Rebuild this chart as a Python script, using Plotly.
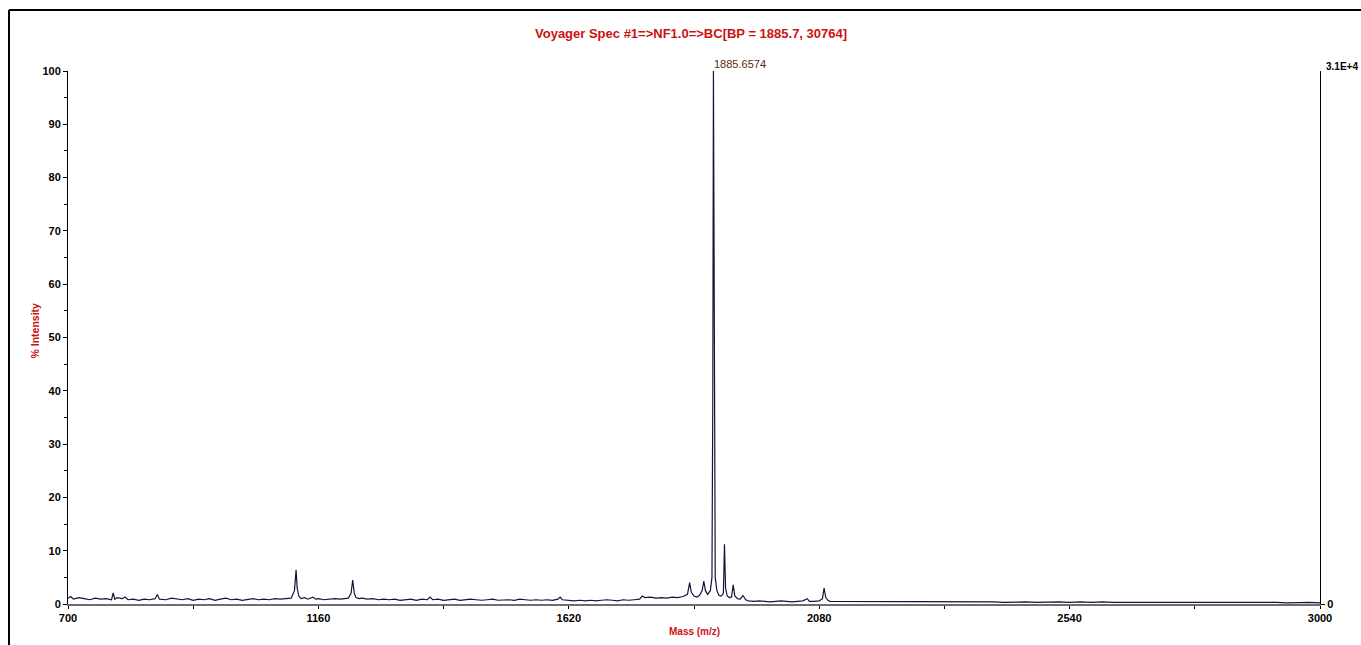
import plotly.graph_objects as go

TITLE = "Voyager Spec #1=>NF1.0=>BC[BP = 1885.7, 30764]"
BASE_PEAK_LABEL = "1885.6574"
BASE_PEAK_MASS = 1885.7
RIGHT_TOP_LABEL = "3.1E+4"

mass = [700, 705, 710, 720, 730, 740, 750, 760, 770, 780, 783, 786, 790, 800, 805, 810, 820, 830, 840, 850,
        860, 864, 868, 880, 890, 900, 910, 920, 930, 940, 950, 960, 970, 980, 990, 1000, 1010, 1020, 1030, 1040,
        1050, 1060, 1070, 1080, 1090, 1100, 1110, 1116, 1119, 1121, 1124, 1128, 1135, 1140, 1150, 1155, 1160, 1170, 1180, 1190,
        1200, 1210, 1215, 1220, 1223, 1226, 1229, 1235, 1240, 1250, 1260, 1270, 1280, 1290, 1300, 1310, 1320, 1330, 1340, 1350,
        1360, 1365, 1370, 1380, 1390, 1400, 1410, 1420, 1430, 1440, 1450, 1460, 1470, 1480, 1490, 1500, 1510, 1520, 1530, 1540,
        1550, 1560, 1570, 1580, 1590, 1600, 1604, 1608, 1620, 1630, 1640, 1650, 1660, 1670, 1680, 1690, 1700, 1710, 1720, 1730,
        1740, 1750, 1755, 1760, 1770, 1780, 1790, 1800, 1810, 1820, 1830, 1838, 1842, 1845, 1850, 1855, 1860, 1865, 1868, 1871,
        1875, 1880, 1883, 1884.5, 1885.7, 1886.5, 1887.5, 1889, 1892, 1896, 1900, 1904, 1906, 1908, 1911, 1915, 1919, 1922, 1925, 1930,
        1935, 1940, 1945, 1950, 1960, 1970, 1980, 1990, 2000, 2010, 2020, 2030, 2040, 2050, 2058, 2062, 2070, 2080, 2086, 2089,
        2092, 2096, 2100, 2120, 2140, 2160, 2180, 2200, 2220, 2240, 2260, 2280, 2300, 2320, 2340, 2360, 2380, 2400, 2420, 2440,
        2460, 2480, 2500, 2520, 2540, 2560, 2580, 2600, 2620, 2640, 2660, 2680, 2700, 2720, 2740, 2760, 2780, 2800, 2820, 2840,
        2860, 2880, 2900, 2920, 2940, 2960, 2980, 3000]

intensity = [1.1, 1.4, 0.9, 1.2, 1.0, 0.8, 1.1, 0.9, 1.0, 0.8, 2.1, 0.9, 1.2, 1.0, 1.3, 0.8, 0.9, 0.7, 0.9, 0.8,
             1.0, 1.8, 0.9, 0.8, 1.1, 0.9, 0.8, 1.0, 0.7, 0.9, 0.8, 1.0, 0.7, 0.9, 1.1, 0.8, 0.9, 0.7, 0.9, 1.0,
             0.8, 0.9, 0.8, 1.0, 0.9, 1.0, 1.1, 2.5, 6.4, 3.0, 1.5, 1.0, 1.2, 0.9, 1.3, 0.9, 1.0, 0.8, 0.9, 1.0,
             0.9, 1.0, 1.1, 2.0, 4.5, 2.0, 1.2, 1.0, 1.1, 0.9, 1.0, 0.8, 0.9, 0.8, 0.9, 0.7, 0.8, 0.9, 0.7, 0.9,
             0.8, 1.3, 0.8, 0.9, 0.7, 0.8, 0.9, 0.7, 0.8, 0.9, 0.8, 0.7, 0.8, 0.9, 0.7, 0.8, 0.8, 0.7, 0.9, 0.8,
             0.7, 0.8, 0.7, 0.8, 0.7, 0.9, 1.3, 0.8, 0.7, 0.6, 0.7, 0.6, 0.7, 0.6, 0.7, 0.8, 0.7, 0.6, 0.8, 0.7,
             0.8, 0.9, 1.5, 1.2, 1.3, 1.1, 1.2, 1.1, 1.3, 1.2, 1.4, 1.8, 4.0, 2.2, 1.5, 1.3, 1.6, 2.5, 4.3, 2.5,
             1.8, 2.5, 5.0, 38.0, 100.0, 63.0, 24.0, 5.0, 2.5, 1.6, 1.5, 2.0, 11.2, 3.0, 1.5, 1.2, 1.3, 3.6, 1.5, 1.0,
             0.9, 1.6, 0.8, 0.6, 0.5, 0.6, 0.5, 0.4, 0.5, 0.6, 0.5, 0.4, 0.5, 0.6, 1.0, 0.5, 0.5, 0.6, 1.0, 3.0,
             1.2, 0.7, 0.5, 0.5, 0.4, 0.5, 0.4, 0.5, 0.4, 0.5, 0.4, 0.4, 0.5, 0.4, 0.4, 0.5, 0.4, 0.4, 0.3, 0.4,
             0.4, 0.3, 0.4, 0.4, 0.3, 0.4, 0.3, 0.4, 0.3, 0.3, 0.4, 0.3, 0.3, 0.4, 0.3, 0.3, 0.3, 0.4, 0.3, 0.3,
             0.3, 0.3, 0.3, 0.3, 0.2, 0.3, 0.3, 0.2]

x_ticks = [700, 1160, 1620, 2080, 2540, 3000]
x_minor_ticks = [930, 1390, 1850, 2310, 2770]
y_ticks = [0, 10, 20, 30, 40, 50, 60, 70, 80, 90, 100]

RED = "#cc1111"
FONT = "Liberation Sans, Arial, sans-serif"

fig = go.Figure()
fig.add_trace(go.Scatter(x=mass, y=intensity, mode="lines",
                         line=dict(color="#14143a", width=1.2), hoverinfo="x+y", showlegend=False))
# invisible trace for right axis
fig.add_trace(go.Scatter(x=[700], y=[0], yaxis="y2", mode="markers",
                         marker=dict(opacity=0), showlegend=False, hoverinfo="skip"))

tickfont = dict(family=FONT, size=11, color="#000000", weight="bold")

fig.update_layout(
    width=1361, height=645,
    margin=dict(l=68, r=41, t=71, b=41),
    paper_bgcolor="white", plot_bgcolor="white",
    font=dict(family=FONT),
    xaxis=dict(range=[700, 3000], tickvals=x_ticks, ticktext=[str(v) for v in x_ticks],
               showgrid=False, zeroline=False, showline=True, linecolor="#6e6e6e", linewidth=2,
               ticks="outside", ticklen=3, tickcolor="#000", tickfont=tickfont,
               minor=dict(tickvals=x_minor_ticks, ticks="outside", ticklen=3, tickcolor="#000")),
    yaxis=dict(range=[0, 100], tickvals=y_ticks, ticktext=[str(v) for v in y_ticks],
               showgrid=False, zeroline=False, showline=True, linecolor="#000", linewidth=1,
               ticks="outside", ticklen=4, tickcolor="#000", tickfont=tickfont,
               minor=dict(dtick=5, tick0=0, ticks="outside", ticklen=3, tickcolor="#000")),
    yaxis2=dict(range=[0, 100], overlaying="y", side="right", tickvals=[0], ticktext=["0"],
                showgrid=False, zeroline=False, showline=True, linecolor="#000", linewidth=1,
                ticks="outside", ticklen=4, tickcolor="#000", tickfont=tickfont),
)

fig.add_annotation(text="<b>" + TITLE + "</b>", xref="paper", yref="paper", x=0.5, y=1, yshift=38, xshift=-3,
                   showarrow=False, font=dict(family=FONT, size=13, color=RED), xanchor="center", yanchor="middle")
fig.add_annotation(text=BASE_PEAK_LABEL, x=BASE_PEAK_MASS, y=100, xref="x", yref="y", showarrow=False,
                   xanchor="left", yanchor="middle", yshift=7, xshift=-1,
                   font=dict(family=FONT, size=11, color="#5a2a0a"))
fig.add_annotation(text="<b>" + RIGHT_TOP_LABEL + "</b>", xref="paper", yref="paper", x=1, y=1, xshift=4, yshift=5,
                   showarrow=False, xanchor="left", yanchor="middle", font=dict(family=FONT, size=10, color="#000"))
fig.add_annotation(text="<b>% Intensity</b>", xref="paper", yref="paper", x=0, xshift=-34, y=0.5, yshift=7,
                   textangle=-90, showarrow=False, xanchor="center", yanchor="middle",
                   font=dict(family=FONT, size=10.5, color=RED))
fig.add_annotation(text="<b>Mass (m/z)</b>", xref="paper", yref="paper", x=0.5, y=0, yshift=-27,
                   showarrow=False, xanchor="center", yanchor="middle",
                   font=dict(family=FONT, size=10, color=RED))

# outer frame (left and top edges visible)
fx0 = (9 - 68) / 1252
fy0 = 1 + (71 - 10) / 533
fig.add_shape(type="line", xref="paper", yref="paper", x0=fx0, x1=fx0, y0=fy0, y1=-0.2,
              line=dict(color="#000", width=2))
fig.add_shape(type="line", xref="paper", yref="paper", x0=fx0, x1=1.1, y0=fy0, y1=fy0,
              line=dict(color="#000", width=2))

fig.write_html("out.html")
